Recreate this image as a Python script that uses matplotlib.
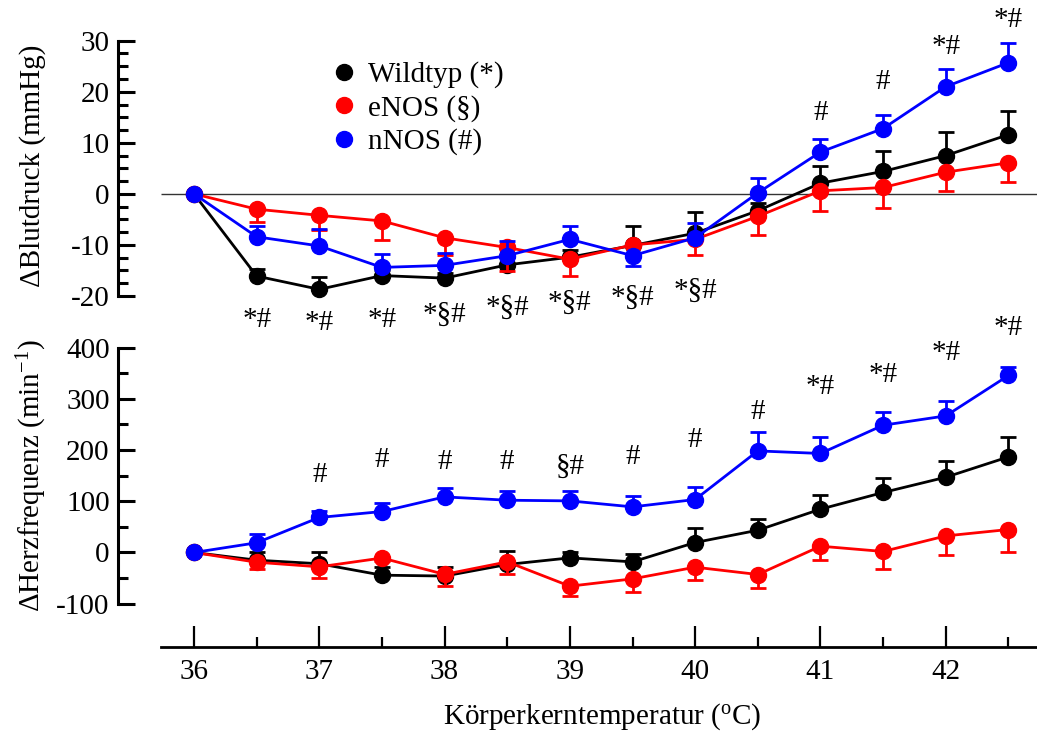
import matplotlib
matplotlib.use("Agg")
import matplotlib.pyplot as plt
from matplotlib.lines import Line2D

plt.rcParams['font.family'] = ['Liberation Serif', 'DejaVu Serif']
plt.rcParams['mathtext.fontset'] = 'custom'
plt.rcParams['mathtext.rm'] = 'Liberation Serif'
plt.rcParams['mathtext.it'] = 'Liberation Serif:italic'
plt.rcParams['axes.unicode_minus'] = False

# ---------------- data ----------------
temps = [36, 36.5, 37, 37.5, 38, 38.5, 39, 39.5, 40, 40.5, 41, 41.5, 42, 42.5]
series_names = ["Wildtyp (*)", "eNOS (§)", "nNOS (#)"]

# Blood pressure change (mmHg)
bp_wt = [0, -16.1, -18.7, -16.0, -16.5, -13.9, -12.4, -10.1, -7.7, -3.3, 2.1, 4.4, 7.5, 11.6]
bp_wt_up = [0, 1.4, 2.4, 1.0, 1.0, 1.5, 1.5, 3.9, 4.1, 1.5, 3.3, 4.0, 4.7, 4.6]
bp_wt_dn = [0] * 14
bp_en = [0, -3.0, -4.2, -5.3, -8.6, -10.5, -12.8, -10.0, -8.9, -4.4, 0.6, 1.25, 4.25, 6.1]
bp_en_up = [0] * 14
bp_en_dn = [0, 2.5, 2.9, 3.8, 3.3, 4.6, 3.3, 2.0, 3.1, 3.6, 4.0, 4.05, 3.7, 3.8]
bp_nn = [0, -8.4, -10.2, -14.4, -14.0, -12.1, -8.9, -12.1, -8.6, 0.2, 8.2, 12.8, 21.0, 25.7]
bp_nn_up = [0, 2.15, 3.3, 2.6, 2.4, 2.9, 2.7, 0, 2.9, 3.0, 2.5, 2.7, 3.5, 3.9]
bp_nn_dn = [0, 0, 0, 0, 0, 0, 0, 2.0, 0, 0, 0, 0, 0, 0]

# Heart rate change (1/min)
hr_wt = [0, -15, -22, -44.3, -46, -23.4, -10.5, -18.3, 19.5, 43.5, 84.6, 117.2, 147, 186.7]
hr_wt_up = [0, 16, 22, 16, 18, 26, 12, 16, 29.3, 21, 27.3, 28.6, 31.2, 39]
hr_wt_dn = [0] * 14
hr_en = [0, -19, -28, -10.8, -42.7, -18.3, -65.8, -51.5, -28.7, -43, 12.3, 2, 32.4, 44.9]
hr_en_up = [0] * 14
hr_en_dn = [0, 13, 22.7, 5, 23, 23, 19, 26.6, 25.4, 26, 26, 35.2, 36.5, 44.9]
hr_nn = [0, 19, 68.4, 80, 108.6, 102.1, 100.8, 89.1, 103.5, 198.4, 193.4, 248.6, 266.8, 345.7]
hr_nn_up = [0, 18, 12, 16.5, 17.6, 18.4, 19.5, 22, 24.7, 37.1, 32.5, 25.4, 29.3, 16.9]
hr_nn_dn = [0] * 14

# significance markers
bp_sig_lo_x = [36.5, 37, 37.5, 38, 38.5, 39, 39.5, 40]
bp_sig_lo_txt = ["*#", "*#", "*#", "*§#", "*§#", "*§#", "*§#", "*§#"]
bp_sig_lo_y = [-24.7, -25.3, -24.7, -23.75, -22.4, -21.4, -20.4, -18.9]
bp_sig_hi_x = [41, 41.5, 42, 42.5]
bp_sig_hi_txt = ["#", "#", "*#", "*#"]
bp_sig_hi_y = [15.9, 21.9, 28.8, 34.0]
hr_sig_x = [37, 37.5, 38, 38.5, 39, 39.5, 40, 40.5, 41, 41.5, 42, 42.5]
hr_sig_txt = ["#", "#", "#", "#", "§#", "#", "#", "#", "*#", "*#", "*#", "*#"]
hr_sig_y = [151, 180, 177, 176, 167, 186.7, 219, 274.6, 323.4, 347.6, 388.7, 438]

x_major = [36, 37, 38, 39, 40, 41, 42]
x_minor = [36.5, 37.5, 38.5, 39.5, 40.5, 41.5, 42.5]

colors = ["black", "#ff0000", "#0000ff"]

# ---------------- figure ----------------
fig = plt.figure(figsize=(10.37, 7.34), dpi=100)
L = 118 / 1037
W = 919 / 1037
ax1 = fig.add_axes([L, 0.59673, W, 0.34782])
ax2 = fig.add_axes([L, 0.11894, W, 0.40736])
XL = (35.3935, 42.728)
XSTART = 35.74

FS = 21
for ax in (ax1, ax2):
    ax.set_xlim(*XL)
    ax.patch.set_visible(False)
    for s in ("top", "right"):
        ax.spines[s].set_visible(False)
    ax.spines["left"].set_linewidth(2.2)
    ax.tick_params(axis="y", which="major", direction="in", length=12, width=2.2,
                   labelsize=FS, pad=6)
    ax.tick_params(axis="y", which="minor", direction="in", length=7, width=2.2)

# top panel
ax1.spines["bottom"].set_visible(False)
ax1.set_xticks([])
ax1.set_ylim(-20, 30)
ax1.set_yticks([-20, -10, 0, 10, 20, 30])
ax1.set_yticks([-17.5, -15, -12.5, -7.5, -5, -2.5, 2.5, 5, 7.5, 12.5, 15, 17.5,
                22.5, 25, 27.5], minor=True)
ax1.hlines(0, XSTART, XL[1], color="#333333", lw=1.0, zorder=1)

bp_sets = [(bp_wt, bp_wt_dn, bp_wt_up), (bp_en, bp_en_dn, bp_en_up), (bp_nn, bp_nn_dn, bp_nn_up)]
hr_sets = [(hr_wt, hr_wt_dn, hr_wt_up), (hr_en, hr_en_dn, hr_en_up), (hr_nn, hr_nn_dn, hr_nn_up)]

for ax, sets in ((ax1, bp_sets), (ax2, hr_sets)):
    for i, (vals, dn, up) in enumerate(sets):
        eb = ax.errorbar(temps, vals, yerr=[dn, up], fmt="-o", color=colors[i],
                         ms=11.5, lw=2, elinewidth=2, capsize=5.5, capthick=2,
                         zorder=3 + i, clip_on=False)
        for art in eb.lines[1] + eb.lines[2]:
            art.set_clip_on(False)

for x, t, y in zip(bp_sig_lo_x, bp_sig_lo_txt, bp_sig_lo_y):
    ax1.text(x, y, t, ha="center", va="center", fontsize=FS, clip_on=False)
for x, t, y in zip(bp_sig_hi_x, bp_sig_hi_txt, bp_sig_hi_y):
    ax1.text(x, y, t, ha="center", va="center", fontsize=FS, clip_on=False)

handles = [Line2D([], [], marker="o", ls="none", color=c, ms=11.5) for c in colors]
ax1.legend(handles, series_names, loc="upper left",
           bbox_to_anchor=(329.4 / 1037, 1 - 61.5 / 734), bbox_transform=fig.transFigure,
           frameon=False, fontsize=FS, handlelength=1.0, handletextpad=0.32,
           labelspacing=0.22, borderpad=0, borderaxespad=0)

# bottom panel
ax2.set_ylim(-184, 400)
ax2.spines["left"].set_bounds(-100, 400)
ax2.set_yticks([-100, 0, 100, 200, 300, 400])
ax2.set_yticks([-50, 50, 150, 250, 350], minor=True)
ax2.spines["bottom"].set_bounds(XSTART, XL[1])
ax2.spines["bottom"].set_linewidth(2)
ax2.set_xticks(x_major)
ax2.set_xticklabels([str(v) for v in x_major])
ax2.set_xticks(x_minor, minor=True)
ax2.tick_params(axis="x", which="major", direction="in", length=15, width=1.6,
                labelsize=FS, pad=9)
ax2.tick_params(axis="x", which="minor", direction="in", length=7, width=1.6)

for x, t, y in zip(hr_sig_x, hr_sig_txt, hr_sig_y):
    ax2.text(x, y, t, ha="center", va="center", fontsize=FS, clip_on=False)

fig.text(33 / 1037, 1 - 166 / 734, "ΔBlutdruck (mmHg)", rotation=90,
         ha="center", va="center", fontsize=FS)
fig.text(32 / 1037, 1 - 476 / 734, "ΔHerzfrequenz (min$^{-1}$)", rotation=90,
         ha="center", va="center", fontsize=FS)
fig.text(602 / 1037, 1 - 717 / 734, "Körperkerntemperatur ($^{\\mathrm{o}}$C)",
         ha="center", va="center", fontsize=FS)

fig.savefig("out.png", dpi=100)
